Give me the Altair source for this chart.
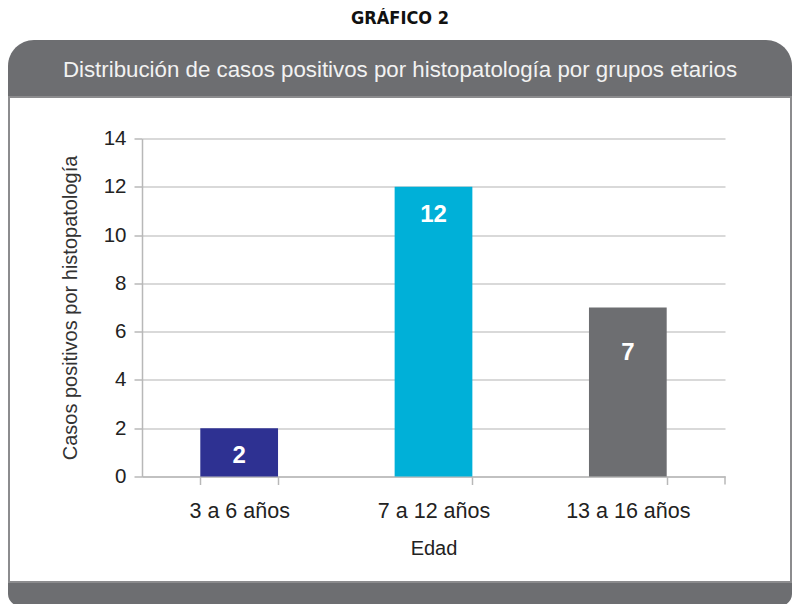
import altair as alt
import pandas as pd

# ---- data ----
categories = ["3 a 6 años", "7 a 12 años", "13 a 16 años"]
values = [2, 12, 7]
bar_colors = ["#2e3192", "#00b0d8", "#6d6e71"]
y_ticks = [0, 2, 4, 6, 8, 10, 12, 14]
chart_title = "GRÁFICO 2"
panel_title = "Distribución de casos positivos por histopatología por grupos etarios"
x_title = "Edad"
y_title = "Casos positivos por histopatología"

df = pd.DataFrame({"grupo": categories, "casos": values})

# ---- layout (page pixels) ----
W, H = 583, 338
OX, OY = 142, 138.5  # page coordinates of the plot origin
SVG_W, SVG_H = 784, 596  # fits inside the 800x612 window with the 8px margin


def px(x):
    return x - OX


def py(y):
    return y - OY


DARK = "#6d6e71"
one = alt.Data(values=[{}])

header = alt.Chart(one).mark_rect(
    color=DARK, cornerRadiusTopLeft=26, cornerRadiusTopRight=26
).encode(x=alt.value(px(8)), x2=alt.value(px(792)), y=alt.value(py(40)), y2=alt.value(py(97)))

bottom_band = alt.Chart(one).mark_rect(
    color=DARK, cornerRadiusBottomLeft=22, cornerRadiusBottomRight=22
).encode(x=alt.value(px(8)), x2=alt.value(px(792)), y=alt.value(py(582)), y2=alt.value(py(606)))

body_border = alt.Chart(one).mark_rect(
    fillOpacity=0, stroke="#8c8c8e", strokeWidth=2
).encode(x=alt.value(px(9)), x2=alt.value(px(791)), y=alt.value(py(97)), y2=alt.value(py(582)))

title_txt = alt.Chart(one).mark_text(
    text=chart_title, font="DejaVu Sans Condensed, Liberation Sans", fontWeight="bold", fontSize=18,
    color="#111111", align="center", baseline="middle"
).encode(x=alt.value(px(400)), y=alt.value(py(19)))

header_txt = alt.Chart(one).mark_text(
    text=panel_title, font="Liberation Sans", fontSize=22.3,
    color="#f2f2f2", align="center", baseline="middle"
).encode(x=alt.value(px(400)), y=alt.value(py(70)))

end_tick = alt.Chart(one).mark_rule(color="#b8b8b8", strokeWidth=1.5).encode(
    x=alt.value(W), y=alt.value(H), y2=alt.value(H + 8)
)

x_enc = alt.X(
    "grupo:N", sort=categories,
    scale=alt.Scale(paddingInner=0.6, paddingOuter=0.3),
    axis=alt.Axis(
        title=x_title, labelAngle=0, grid=False, tickBand="extent",
        labelFont="Liberation Sans", labelFontSize=21.5, labelColor="#222222", labelPadding=16,
        tickSize=8, tickColor="#b8b8b8", tickWidth=1.5,
        domainColor="#b8b8b8", domainWidth=1.5,
        titleFont="Liberation Sans", titleFontSize=20, titleFontWeight="normal", titleColor="#222222",
        titleX=W / 2, titleY=71.5, titleBaseline="middle", titleAlign="center",
    ),
)
y_enc = alt.Y(
    "casos:Q",
    scale=alt.Scale(domain=[0, 14]),
    axis=alt.Axis(
        title=y_title, values=y_ticks, grid=True,
        gridColor="#cccccc", gridWidth=1.5,
        labelFont="Liberation Sans", labelFontSize=20.5, labelColor="#222222", labelPadding=8,
        tickSize=8, tickColor="#b8b8b8", tickWidth=1.5,
        domainColor="#b8b8b8", domainWidth=1.5,
        titleFont="Liberation Sans", titleFontSize=20, titleFontWeight="normal", titleColor="#333333",
        titleX=px(70), titleY=H / 2, titleAngle=-90, titleAlign="center", titleBaseline="middle",
    ),
)

bars = alt.Chart(df).mark_bar().encode(
    x=x_enc,
    y=y_enc,
    color=alt.Color("grupo:N", scale=alt.Scale(domain=categories, range=bar_colors), legend=None),
)

labels_main = alt.Chart(df).transform_filter(alt.datum.casos != 7).mark_text(
    font="Liberation Sans", fontWeight="bold", fontSize=24, color="white",
    baseline="middle", dy=28
).encode(x=alt.X("grupo:N", sort=categories), y="casos:Q", text="casos:Q")

labels_seven = alt.Chart(df).transform_filter(alt.datum.casos == 7).mark_text(
    font="Liberation Sans", fontWeight="bold", fontSize=24, color="white",
    baseline="middle", dy=45
).encode(x=alt.X("grupo:N", sort=categories), y="casos:Q", text="casos:Q")

chart = alt.layer(
    header, bottom_band, body_border, title_txt, header_txt, bars, labels_main, labels_seven, end_tick
).properties(
    width=W, height=H,
    padding={"left": OX - 8, "top": OY - 8, "right": SVG_W - (OX - 8) - W, "bottom": SVG_H - (OY - 8) - H},
    autosize=alt.AutoSizeParams(type="none"),
    background="white",
).configure_view(stroke=None)

chart.save("out.html", embed_options={"renderer": "svg", "actions": False})
